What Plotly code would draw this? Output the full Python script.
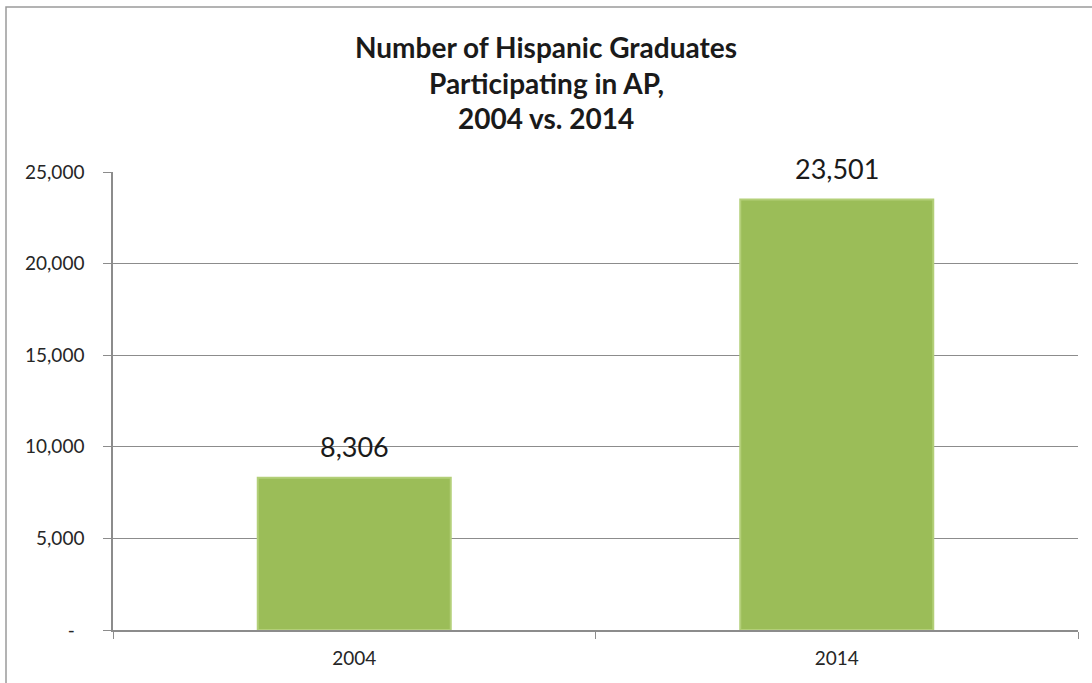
import plotly.graph_objects as go

years = ["2004", "2014"]
graduates = [8306, 23501]
title_lines = ["Number of Hispanic Graduates", "Participating in AP,", "2004 vs. 2014"]
y_tickvals = [0, 5000, 10000, 15000, 20000, 25000]
y_ticktext = ["-\u00a0\u00a0", "5,000", "10,000", "15,000", "20,000", "25,000"]

FONT = "Lato"
L, R, T, B = 113, 14, 172, 53
W, H = 1092, 683
pw = W - L - R
ph = H - T - B

fig = go.Figure()
fig.add_trace(go.Bar(
    x=years, y=graduates, width=0.4,
    marker=dict(color="#9bbd58", line=dict(color="#b3cf78", width=2)),
    hoverinfo="x+y",
))

# data labels (category index from list order)
for i, v in enumerate(graduates):
    fig.add_annotation(x=i, y=v, xref="x", yref="y", text=f"{v:,}", showarrow=False,
                       yanchor="middle", yshift=31,
                       font=dict(family=FONT, size=27, color="#1a1a1a"))

# title lines
title_y_px = [47, 83, 118]
for line, ypx in zip(title_lines, title_y_px):
    fig.add_annotation(xref="paper", yref="paper",
                       x=(W / 2 - L) / pw, y=(H - B - ypx) / ph,
                       text=f"<b>{line}</b>", showarrow=False,
                       xanchor="center", yanchor="middle",
                       font=dict(family=FONT, size=28, color="#1a1a1a"))

# outer chart frame (extends past right/bottom edges)
fig.add_shape(type="rect", xref="paper", yref="paper",
              x0=(6 - L) / pw, x1=(W + 20 - L) / pw,
              y0=(H - B - (H + 20)) / ph, y1=(H - B - 7) / ph,
              line=dict(color="#9a9a9a", width=1.5), fillcolor="rgba(0,0,0,0)",
              layer="below")

fig.update_layout(
    width=W, height=H,
    margin=dict(l=L, r=R, t=T, b=B),
    paper_bgcolor="white", plot_bgcolor="white",
    showlegend=False,
    font=dict(family=FONT, color="#333333"),
)
fig.update_xaxes(
    type="category", range=[-0.5, len(years) - 0.5],
    showline=True, linecolor="#8c8c8c", linewidth=1.5,
    ticks="outside", tickson="boundaries", ticklen=7, tickcolor="#8c8c8c",
    ticklabelstandoff=10,
    tickfont=dict(family=FONT, size=19, color="#262626"),
    showgrid=False, zeroline=False, mirror=False,
)
fig.update_yaxes(
    range=[0, 25000], tickvals=y_tickvals, ticktext=y_ticktext,
    showline=True, linecolor="#8c8c8c", linewidth=1.5,
    ticks="outside", ticklen=8, tickcolor="#8c8c8c",
    showgrid=True, gridcolor="#8c8c8c", gridwidth=1,
    zeroline=False, ticklabelstandoff=15,
    tickfont=dict(family=FONT, size=19, color="#262626"),
)

fig.write_html("out.html", config={"displayModeBar": False},
               post_script="document.body.style.margin='0';document.body.style.overflow='hidden';")
